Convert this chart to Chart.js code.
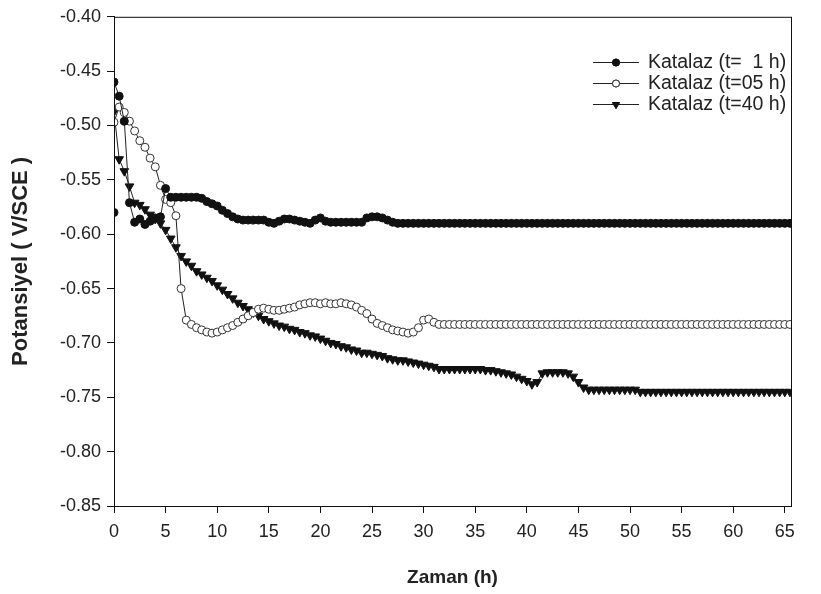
<!DOCTYPE html>
<html>
<head>
<meta charset="utf-8">
<script src="https://cdn.jsdelivr.net/npm/chart.js@4/dist/chart.umd.min.js"></script>
<style>
  html, body { margin: 0; padding: 0; background: #fff; }
  #kutu { width: 821px; height: 594px; }
</style>
</head>
<body>
<div id="kutu"><canvas id="grafik" width="821" height="594"></canvas></div>
<script>
// zaman (h), her 0.5 saatte bir okuma
const zaman = [
  0, 0.5, 1, 1.5, 2, 2.5, 3, 3.5, 4, 4.5,
  5, 5.5, 6, 6.5, 7, 7.5, 8, 8.5, 9, 9.5,
  10, 10.5, 11, 11.5, 12, 12.5, 13, 13.5, 14, 14.5,
  15, 15.5, 16, 16.5, 17, 17.5, 18, 18.5, 19, 19.5,
  20, 20.5, 21, 21.5, 22, 22.5, 23, 23.5, 24, 24.5,
  25, 25.5, 26, 26.5, 27, 27.5, 28, 28.5, 29, 29.5,
  30, 30.5, 31, 31.5, 32, 32.5, 33, 33.5, 34, 34.5,
  35, 35.5, 36, 36.5, 37, 37.5, 38, 38.5, 39, 39.5,
  40, 40.5, 41, 41.5, 42, 42.5, 43, 43.5, 44, 44.5,
  45, 45.5, 46, 46.5, 47, 47.5, 48, 48.5, 49, 49.5,
  50, 50.5, 51, 51.5, 52, 52.5, 53, 53.5, 54, 54.5,
  55, 55.5, 56, 56.5, 57, 57.5, 58, 58.5, 59, 59.5,
  60, 60.5, 61, 61.5, 62, 62.5, 63, 63.5, 64, 64.5,
  65, 65.5
]

// Katalaz (t= 1 h) - ilk okuma ayrica
const zaman1Bas = [0]
const deger1Bas = [-0.580]
const deger1 = [
  -0.460, -0.473, -0.496, -0.571, -0.589, -0.586, -0.591, -0.588, -0.585, -0.584,
  -0.558, -0.566, -0.566, -0.566, -0.566, -0.566, -0.566, -0.567, -0.570, -0.572,
  -0.574, -0.578, -0.581, -0.584, -0.586, -0.587, -0.587, -0.587, -0.587, -0.587,
  -0.589, -0.590, -0.588, -0.586, -0.586, -0.587, -0.588, -0.589, -0.590, -0.587,
  -0.585, -0.588, -0.589, -0.589, -0.589, -0.589, -0.589, -0.589, -0.589, -0.585,
  -0.584, -0.584, -0.585, -0.587, -0.589, -0.590, -0.590, -0.590, -0.590, -0.590,
  -0.590, -0.590, -0.590, -0.590, -0.590, -0.590, -0.590, -0.590, -0.590, -0.590,
  -0.590, -0.590, -0.590, -0.590, -0.590, -0.590, -0.590, -0.590, -0.590, -0.590,
  -0.590, -0.590, -0.590, -0.590, -0.590, -0.590, -0.590, -0.590, -0.590, -0.590,
  -0.590, -0.590, -0.590, -0.590, -0.590, -0.590, -0.590, -0.590, -0.590, -0.590,
  -0.590, -0.590, -0.590, -0.590, -0.590, -0.590, -0.590, -0.590, -0.590, -0.590,
  -0.590, -0.590, -0.590, -0.590, -0.590, -0.590, -0.590, -0.590, -0.590, -0.590,
  -0.590, -0.590, -0.590, -0.590, -0.590, -0.590, -0.590, -0.590, -0.590, -0.590,
  -0.590, -0.590
]

// Katalaz (t=05 h)
const deger2 = [
  -0.497, -0.483, -0.488, -0.496, -0.505, -0.514, -0.520, -0.530, -0.538, -0.555,
  -0.568, -0.571, -0.583, -0.650, -0.679, -0.683, -0.686, -0.688, -0.690, -0.691,
  -0.690, -0.688, -0.686, -0.684, -0.681, -0.678, -0.675, -0.672, -0.669, -0.668,
  -0.669, -0.670, -0.670, -0.669, -0.668, -0.667, -0.665, -0.664, -0.663, -0.663,
  -0.664, -0.663, -0.664, -0.664, -0.663, -0.664, -0.665, -0.667, -0.670, -0.673,
  -0.678, -0.682, -0.684, -0.686, -0.688, -0.689, -0.690, -0.691, -0.690, -0.686,
  -0.679, -0.678, -0.681, -0.683, -0.683, -0.683, -0.683, -0.683, -0.683, -0.683,
  -0.683, -0.683, -0.683, -0.683, -0.683, -0.683, -0.683, -0.683, -0.683, -0.683,
  -0.683, -0.683, -0.683, -0.683, -0.683, -0.683, -0.683, -0.683, -0.683, -0.683,
  -0.683, -0.683, -0.683, -0.683, -0.683, -0.683, -0.683, -0.683, -0.683, -0.683,
  -0.683, -0.683, -0.683, -0.683, -0.683, -0.683, -0.683, -0.683, -0.683, -0.683,
  -0.683, -0.683, -0.683, -0.683, -0.683, -0.683, -0.683, -0.683, -0.683, -0.683,
  -0.683, -0.683, -0.683, -0.683, -0.683, -0.683, -0.683, -0.683, -0.683, -0.683,
  -0.683, -0.683
]

// Katalaz (t=40 h)
const deger3 = [
  -0.487, -0.531, -0.542, -0.556, -0.571, -0.573, -0.577, -0.582, -0.586, -0.590,
  -0.596, -0.604, -0.612, -0.620, -0.625, -0.629, -0.634, -0.637, -0.640, -0.643,
  -0.647, -0.651, -0.655, -0.659, -0.663, -0.666, -0.669, -0.672, -0.675, -0.678,
  -0.680, -0.682, -0.684, -0.685, -0.687, -0.688, -0.690, -0.691, -0.693, -0.694,
  -0.696, -0.698, -0.700, -0.701, -0.703, -0.704, -0.706, -0.707, -0.709, -0.709,
  -0.710, -0.711, -0.712, -0.714, -0.715, -0.716, -0.716, -0.717, -0.718, -0.719,
  -0.720, -0.721, -0.722, -0.724, -0.724, -0.724, -0.724, -0.724, -0.724, -0.724,
  -0.724, -0.724, -0.725, -0.725, -0.726, -0.727, -0.728, -0.729, -0.731, -0.733,
  -0.735, -0.738, -0.736, -0.728, -0.727, -0.727, -0.727, -0.727, -0.728, -0.731,
  -0.736, -0.741, -0.743, -0.743, -0.743, -0.743, -0.743, -0.743, -0.743, -0.743,
  -0.743, -0.743, -0.745, -0.745, -0.745, -0.745, -0.745, -0.745, -0.745, -0.745,
  -0.745, -0.745, -0.745, -0.745, -0.745, -0.745, -0.745, -0.745, -0.745, -0.745,
  -0.745, -0.745, -0.745, -0.745, -0.745, -0.745, -0.745, -0.745, -0.745, -0.745,
  -0.745, -0.745
]

const etiketler = ['Katalaz (t=  1 h)', 'Katalaz (t=05 h)', 'Katalaz (t=40 h)']
const yaziTipi = "'Liberation Sans', Arial, sans-serif"

function noktalar(xler, yler) {
  return xler.map((x, i) => ({ x: x, y: yler[i] }))
}

const seri1 = noktalar(zaman1Bas, deger1Bas).concat(noktalar(zaman, deger1))

// cerceve (ust ve sag kenar dahil)
const cercevePlugin = {
  id: 'cerceve',
  afterDatasetsDraw(chart) {
    const a = chart.chartArea
    const ctx = chart.ctx
    ctx.save()
    ctx.strokeStyle = '#111'
    ctx.lineWidth = 1
    ctx.strokeRect(a.left + 0.5, a.top + 0.5, a.right - a.left, a.bottom - a.top)
    ctx.restore()
  }
}

// legend icerde, sag ustte
const legendPlugin = {
  id: 'icLegend',
  afterDraw(chart) {
    const ctx = chart.ctx
    const satirlar = [62, 83, 104]
    ctx.save()
    chart.data.datasets.forEach((ds, i) => {
      const y = satirlar[i]
      ctx.strokeStyle = '#222'
      ctx.lineWidth = 1
      ctx.beginPath()
      ctx.moveTo(593, y + 0.5)
      ctx.lineTo(639, y + 0.5)
      ctx.stroke()
      Chart.helpers.drawPoint(ctx, {
        pointStyle: ds.pointStyle,
        rotation: ds.pointRotation || 0,
        radius: ds.pointStyle === 'triangle' ? 4 : 3.5,
        borderWidth: 1
      }, 616, y + 0.5)
      ctx.fillStyle = ds.pointBackgroundColor
      ctx.strokeStyle = ds.pointBorderColor
      ctx.fill()
      ctx.stroke()
      ctx.fillStyle = '#222'
      ctx.font = '19.5px ' + yaziTipi
      ctx.textBaseline = 'middle'
      ctx.textAlign = 'left'
      ctx.fillText(etiketler[i], 648, y + 1)
    })
    ctx.restore()
  }
}

function grafikCiz() {
  const ctx = document.getElementById('grafik').getContext('2d')

  new Chart(ctx, {
    type: 'line',
    data: {
      datasets: [
        {
          label: etiketler[0],
          data: seri1,
          borderColor: '#222',
          borderWidth: 1,
          pointStyle: 'circle',
          pointRadius: 4,
          pointBackgroundColor: '#111',
          pointBorderColor: '#111',
          pointBorderWidth: 1
        },
        {
          label: etiketler[1],
          data: noktalar(zaman, deger2),
          borderColor: '#222',
          borderWidth: 1,
          pointStyle: 'circle',
          pointRadius: 4,
          pointBackgroundColor: '#fff',
          pointBorderColor: '#333',
          pointBorderWidth: 1
        },
        {
          label: etiketler[2],
          data: noktalar(zaman, deger3),
          borderColor: '#222',
          borderWidth: 1,
          pointStyle: 'triangle',
          pointRotation: 180,
          pointRadius: 5,
          pointBackgroundColor: '#111',
          pointBorderColor: '#111',
          pointBorderWidth: 1
        }
      ]
    },
    options: {
      responsive: false,
      animation: false,
      layout: { padding: { top: 15, right: 30, left: 0, bottom: 0 } },
      plugins: {
        legend: { display: false },
        tooltip: { enabled: false }
      },
      scales: {
        x: {
          type: 'linear',
          min: 0,
          max: 65.6,
          afterFit: (s) => { s.height = 88 },
          border: { display: true, color: '#111', width: 1 },
          grid: { drawOnChartArea: false, drawTicks: true, tickLength: 7, color: '#111' },
          ticks: {
            stepSize: 5,
            includeBounds: false,
            padding: 8,
            color: '#222',
            font: { family: yaziTipi, size: 18 },
            maxRotation: 0
          },
          title: {
            display: true,
            text: 'Zaman (h)',
            color: '#222',
            font: { family: yaziTipi, size: 19, weight: 'bold' },
            padding: { top: 0, bottom: 5 }
          }
        },
        y: {
          min: -0.85,
          max: -0.40,
          afterFit: (s) => { s.width = 114 },
          border: { display: true, color: '#111', width: 1 },
          grid: { drawOnChartArea: false, drawTicks: true, tickLength: 7, color: '#111' },
          ticks: {
            stepSize: 0.05,
            padding: 6,
            color: '#222',
            font: { family: yaziTipi, size: 18 },
            callback: (v) => Number(v).toFixed(2)
          },
          title: {
            display: true,
            text: 'Potansiyel ( V/SCE )',
            color: '#222',
            font: { family: yaziTipi, size: 22, weight: 'bold' },
            padding: { top: 8, bottom: 4 }
          }
        }
      }
    },
    plugins: [cercevePlugin, legendPlugin]
  })
}

window.onload = () => {
  grafikCiz()
}
</script>
</body>
</html>
